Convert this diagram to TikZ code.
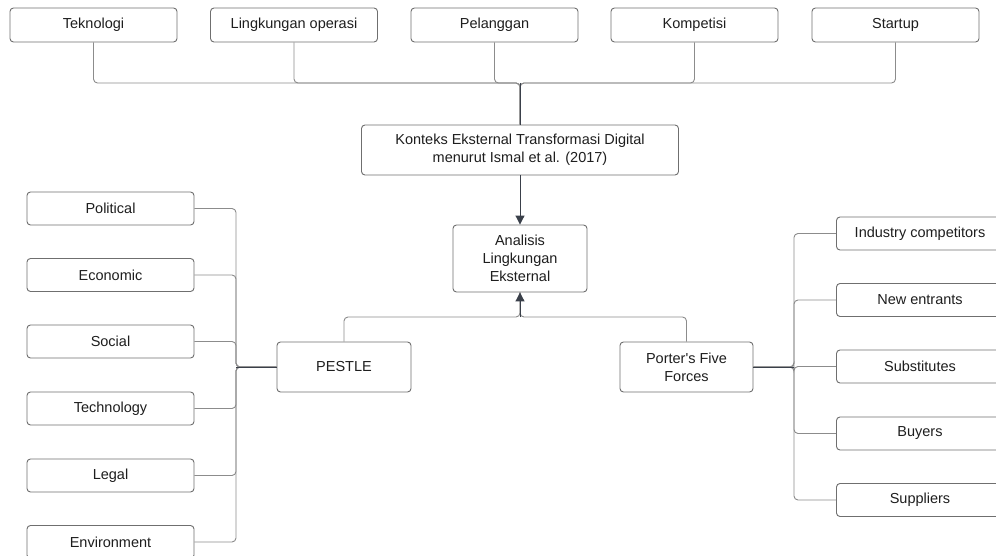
\documentclass[tikz,border=0pt]{standalone}
\usepackage{fontspec}
\setmainfont{Liberation Sans}
\usetikzlibrary{arrows.meta}
\definecolor{boxc}{HTML}{6F6F6F}
\definecolor{linec}{HTML}{8C8C8C}
\definecolor{darkc}{HTML}{3A404A}
\definecolor{txt}{HTML}{1E1E1E}
\tikzset{
  box/.style={draw=boxc, rounded corners=3.5pt, line width=0.9pt, inner sep=0pt,
    align=center, text=txt, font=\fontsize{14.5}{18.3}\selectfont, fill=white},
  topbox/.style={box, minimum width=167pt, minimum height=34pt},
  sidebox/.style={box, minimum width=167pt, minimum height=33pt},
  conn/.style={draw=linec, line width=0.9pt, rounded corners=4pt},
  trunk/.style={draw=darkc, line width=1pt},
  tip/.style={-{Triangle[length=9pt,width=9pt]}, draw=darkc, fill=darkc, line width=1pt}
}
\begin{document}
\begin{tikzpicture}[x=1pt,y=-1pt]
\clip (0,0) rectangle (996,556);
\fill[white] (0,0) rectangle (996,556);
% top boxes
\node[topbox] (t1) at (93.5,25) {Teknologi};
\node[topbox] (t2) at (294,25) {Lingkungan operasi};
\node[topbox] (t3) at (494.5,25) {Pelanggan};
\node[topbox] (t4) at (694.5,25) {Kompetisi};
\node[topbox] (t5) at (895.5,25) {Startup};
\node[box, minimum width=317pt, minimum height=50pt] (kon) at (520,150) {Konteks Eksternal Transformasi Digital\\menurut Ismal et al. (2017)};
\node[box, minimum width=134pt, minimum height=67pt] (ana) at (520,258.5) {Analisis\\Lingkungan\\Eksternal};
\node[box, minimum width=134pt, minimum height=50pt] (pes) at (344,367) {PESTLE};
\node[box, minimum width=133pt, minimum height=50pt] (por) at (686.5,367) {Porter\textquotesingle s Five\\Forces};
% left boxes
\node[sidebox] (l1) at (110.5,208.5) {Political};
\node[sidebox] (l2) at (110.5,275) {Economic};
\node[sidebox] (l3) at (110.5,341.5) {Social};
\node[sidebox] (l4) at (110.5,408.5) {Technology};
\node[sidebox] (l5) at (110.5,475.5) {Legal};
\node[sidebox] (l6) at (110.5,542) {Environment};
% right boxes
\node[sidebox] (r1) at (920,233.5) {Industry competitors};
\node[sidebox] (r2) at (920,300) {New entrants};
\node[sidebox] (r3) at (920,366.5) {Substitutes};
\node[sidebox] (r4) at (920,433.5) {Buyers};
\node[sidebox] (r5) at (920,500) {Suppliers};
% junction coordinates
\coordinate (tj) at (520,83);
\coordinate (lj) at (236,367);
\coordinate (rj) at (794,367);
\coordinate (bj) at (520,317);
% top connectors
\foreach \n in {t1,t2,t3,t4,t5} {
  \draw[conn] (\n.south) |- (tj) -- (kon.north);
}
\draw[trunk] (tj) -- (kon.north);
\draw[tip] (kon.south) -- (ana.north);
% bottom connectors
\draw[conn] (pes.north) |- (bj) -- (ana.south);
\draw[conn] (por.north) |- (bj) -- (ana.south);
\draw[tip] (bj) -- (ana.south);
% left connectors
\foreach \n in {l1,l2,l3,l4,l5,l6} {
  \draw[conn] (\n.east) -| (lj) -- (pes.west);
}
\draw[trunk] (lj) -- (pes.west);
% right connectors
\foreach \n in {r1,r2,r3,r4,r5} {
  \draw[conn] (\n.west) -| (rj) -- (por.east);
}
\draw[trunk] (rj) -- (por.east);
\end{tikzpicture}
\end{document}
